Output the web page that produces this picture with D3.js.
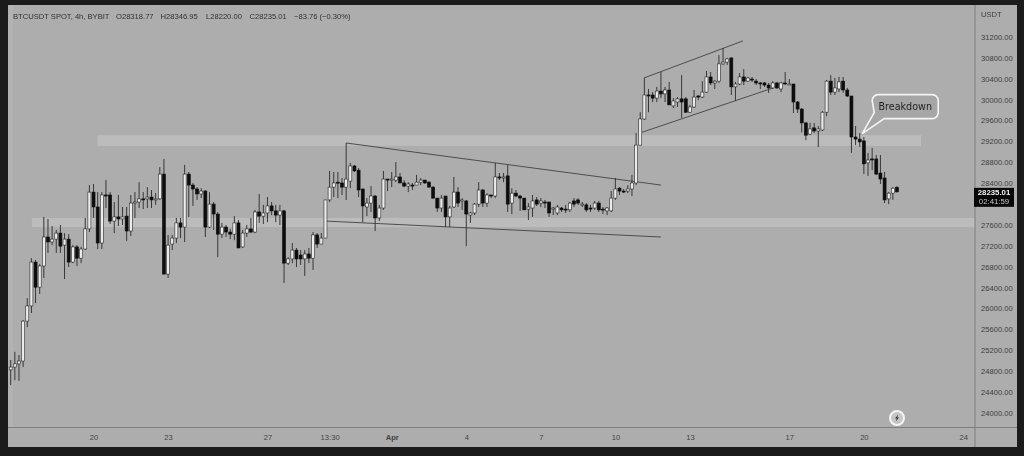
<!DOCTYPE html>
<html lang="en">
	<head>
		<meta charset="utf-8">
		<title>BTCUSDT 4h</title>
		<script src="https://cdn.jsdelivr.net/npm/d3@7"></script>
		<style>
			html, body { margin: 0; padding: 0; background: #1b1b1b; overflow: hidden; }
			svg { display: block; filter: blur(0.35px); }
			text { font-family: "Liberation Sans", Arial, sans-serif; }
		</style>
	</head>
	<body>
		<script>
//candle values, one entry per 4h bar
var opens = [
24825,24880,24940,24995,25760,26050,26890,26410,26815,27370,
27275,27330,27445,27215,27330,26890,27180,26965,27140,27525,
28230,27945,27255,28175,28175,27675,27755,27715,27770,27485,
28020,28040,28100,28100,28135,28080,28100,28575,26660,27235,
27350,27640,27560,28575,28365,28290,28195,28250,27560,28000,
27810,27425,27560,27465,27425,27640,27180,27445,27525,27465,
27850,27770,27830,27965,27870,27790,27870,26870,26950,27120,
27025,26950,27045,26965,27410,27235,27350,28080,28325,28420,
28405,28325,28440,28730,28650,28290,27945,28020,28155,27735,
27925,28480,28460,28460,28520,28405,28345,28365,28365,28420,
28460,28420,28325,28115,27925,28155,27755,27945,28230,28060,
28060,27790,27830,28000,28270,28020,28175,28155,28520,28500,
28540,28020,28210,28155,28115,27905,27925,28080,28020,28040,
28040,27905,27830,27925,27905,27890,28060,28080,27990,27985,
27925,27925,28020,27905,27870,27870,28115,28305,28250,28250,
28290,28405,29130,29630,30090,30090,30030,30165,30110,30185,
29880,29955,30015,30015,29760,29860,30070,30050,30145,30435,
30320,30355,30685,30720,30800,30245,30300,30435,30355,30395,
30355,30320,30320,30280,30225,30320,30205,30320,30290,30300,
29955,29820,29555,29340,29460,29400,29420,29760,30355,30145,
30205,30355,30185,30070,29285,29245,29210,28790,28865,28865,
28595,28500,28100,28210,28318.77];

var highs = [
25015,25170,25110,25780,26200,26965,26930,26850,27755,27715,
27580,27505,27600,27445,27425,27215,27215,27180,27735,28365,
28385,28230,28230,28460,28230,28040,28175,27945,27945,28175,
28230,28420,28230,28325,28270,28210,28710,28865,27410,27410,
27735,27735,28750,28615,28405,28325,28305,28270,28230,28040,
27850,27640,27600,27525,27770,27695,27505,27600,27735,27890,
28195,27985,28135,28040,27985,27985,27890,26985,27255,27160,
27120,27120,27160,27465,27445,27445,28080,28635,28615,28615,
28500,29170,28790,28750,28690,28290,28115,28345,28175,27985,
28635,28480,28615,28805,28595,28460,28420,28405,28560,28500,
28460,28440,28345,28115,28175,28155,27965,28520,28325,28115,
28080,27850,28020,28420,28290,28210,28175,28790,28595,28595,
28750,28305,28270,28175,28115,28020,28175,28135,28115,28080,
28040,27945,27985,27945,27985,28040,28115,28115,28040,28020,
27985,28060,28060,27945,27945,28250,28500,28325,28290,28365,
28560,29360,29760,30415,30205,30145,30245,30530,30245,30340,
30030,30050,30470,30050,29900,30185,30090,30355,30550,30530,
30375,30855,30990,30800,30800,30340,30510,30585,30435,30435,
30395,30340,30340,30320,30355,30340,30340,30530,30395,30300,
29975,29840,29570,29555,29555,29495,29780,30375,30470,30415,
30435,30435,30225,30070,29495,29360,29285,28980,29075,28940,
28940,28615,28230,28325,28346.95];

var lows = [
24535,24630,24615,24880,25645,25915,26105,26280,26585,27065,
27215,27065,27065,26565,26795,26870,26815,26870,27120,27465,
27735,27140,27140,27925,27620,27445,27580,27600,27295,27390,
27735,27925,27905,27925,27925,27985,28080,26660,26585,27120,
27255,27350,27275,27755,27965,28080,28115,27370,27540,27505,
26985,27350,27370,27330,27310,27160,27160,27370,27445,27445,
27640,27620,27655,27790,27655,27600,26490,26835,26870,26795,
26835,26625,26870,26740,27160,27235,27350,28040,28135,28115,
28175,28080,28305,28615,28135,27655,27770,27850,27485,27675,
27890,28250,28325,28420,28405,28325,28230,28270,28365,28365,
28385,28325,28100,27850,27850,27560,27560,27925,27945,27890,
27195,27640,27790,27945,27945,27945,28115,28115,28460,28420,
27850,27810,28135,27870,27890,27695,27755,27965,27945,27925,
27755,27790,27790,27850,27830,27850,27945,27985,27945,27850,
27850,27890,27850,27810,27790,27850,28080,28175,28210,28210,
28155,28365,29130,29610,29760,29955,29955,30030,29955,29900,
29840,29860,29650,29745,29745,29840,29990,30030,30130,30280,
30205,30320,30665,30665,30090,29975,30280,30280,30340,30340,
30280,30205,30245,30130,30205,30205,30145,30280,30280,29745,
29745,29375,29225,29320,29360,29095,29400,29685,30090,30090,
30145,30130,30050,28980,29130,29095,28575,28540,28650,28560,
28385,28020,28000,28080,28220];

var closes = [
24880,24940,24995,25760,26050,26890,26410,26815,27370,27275,
27330,27445,27195,27330,26890,27180,26965,27140,27525,28230,
27945,27255,28175,28155,27675,27755,27715,27755,27485,28020,
28040,28100,28080,28135,28080,28100,28575,26660,27215,27350,
27640,27560,28575,28365,28290,28195,28250,27560,28000,27810,
27425,27560,27465,27425,27640,27160,27445,27525,27465,27850,
27770,27830,27965,27870,27790,27870,26870,26950,27120,26950,
26950,27045,26965,27410,27235,27350,28080,28325,28405,28405,
28325,28480,28730,28635,28270,27965,28020,28155,27735,27925,
28480,28460,28480,28520,28405,28345,28385,28345,28420,28460,
28405,28325,28115,27925,28115,27755,27925,28230,28020,28080,
27810,27830,28000,28270,28020,28175,28155,28520,28500,28520,
28000,28210,28155,28115,27890,27945,28060,28000,28060,28020,
27830,27925,27945,27890,27890,28020,28000,28020,28000,27890,
27905,28020,27890,27890,27925,28115,28290,28250,28240,28290,
28405,29130,29630,30090,30070,30030,30165,30110,30185,29900,
29975,30015,29955,29760,29860,30050,30050,30145,30435,30320,
30355,30685,30720,30780,30245,30300,30435,30355,30415,30375,
30320,30310,30280,30225,30320,30225,30320,30300,30300,29955,
29820,29555,29320,29440,29400,29440,29760,30355,30145,30225,
30340,30185,30070,29285,29245,29190,28770,28845,28845,28575,
28480,28080,28210,28305,28235.01];

//axis ticks, x positions are bar numbers. 28000 sits behind the price tag in the picture
var priceTicks = [24000,24400,24800,25200,25600,26000,26400,26800,27200,27600,28400,28800,29200,29600,30000,30400,30800,31200];
var dayTicks = [21,39,63,78,93,111,129,147,165,189,207,231];
var dayLabels = ["20","23","27","13:30","Apr","4","7","10","13","17","20","24"];

//drawings on the chart as [bar, price] pairs
var wedgeTop = [[82,29170],[158,28365]];
var wedgeBottom = [[77.1,27675],[158,27370]];
var channelTop = [[153.9,30415],[177.8,31125]];
var channelBottom = [[153.4,29375],[185.1,30225]];
var zoneUpper = [22,220.8,29320,29115];
var zoneLower = [6.1,240,27735,27560];
var calloutBar = 206.6;
var calloutPrice = 29350;

var legendParts = ["BTCUSDT SPOT, 4h, BYBIT","O28318.77","H28346.95","L28220.00","C28235.01","\u221283.76 (\u22120.30%)"];
var legendX = [13,116,160.5,206,249.5,294];

var w = 1024;
var h = 456;
var panel = {left: 8, right: 1017, top: 5, bottom: 447};
var plotRight = 975;
var plotBottom = 427.5;

var xScale = d3.scaleLinear().domain([1,215]).range([10.7,897]);
var yScale = d3.scaleLinear().domain([24000,31200]).range([413,37]);

var svg = d3.select("body").append("svg").attr("width",w).attr("height",h);

svg.append("rect")
	.attr("x",panel.left).attr("y",panel.top)
	.attr("width",panel.right-panel.left).attr("height",panel.bottom-panel.top)
	.attr("fill","#adadad");

svg.append("rect")
	.attr("x",panel.left).attr("y",panel.top)
	.attr("width",5).attr("height",plotBottom-panel.top)
	.attr("fill","#b2b2b2");

svg.append("clipPath").attr("id","plot").append("rect")
	.attr("x",panel.left).attr("y",panel.top)
	.attr("width",plotRight-panel.left).attr("height",plotBottom-panel.top);

var plot = svg.append("g").attr("clip-path","url(#plot)");

//support and resistance zones
var zones = [zoneUpper,zoneLower];
plot.selectAll(".zone").data(zones).enter().append("rect")
	.attr("class","zone")
	.attr("x",function(d){ return xScale(d[0]); })
	.attr("y",function(d){ return yScale(d[2]); })
	.attr("width",function(d){ return xScale(d[1])-xScale(d[0]); })
	.attr("height",function(d){ return yScale(d[3])-yScale(d[2]); })
	.attr("fill","#bcbcbc");

//trend lines
var lineGen = d3.line().x(function(d){ return xScale(d[0]); }).y(function(d){ return yScale(d[1]); });
plot.selectAll(".trend").data([wedgeTop,wedgeBottom,channelTop,channelBottom]).enter().append("path")
	.attr("class","trend")
	.attr("d",lineGen)
	.attr("fill","none")
	.attr("stroke","#4d4d4d")
	.attr("stroke-width",1);

//candles
var candles = opens.map(function(o,i){
	return {bar:i+1, open:o, high:highs[i], low:lows[i], close:closes[i]};
});
var candleG = plot.append("g");
candleG.selectAll(".wick").data(candles).enter().append("line")
	.attr("class","wick")
	.attr("x1",function(d){ return xScale(d.bar); })
	.attr("x2",function(d){ return xScale(d.bar); })
	.attr("y1",function(d){ return yScale(d.high); })
	.attr("y2",function(d){ return yScale(d.low); })
	.attr("stroke","#383838")
	.attr("stroke-width",1);
candleG.selectAll(".body").data(candles).enter().append("rect")
	.attr("class","body")
	.attr("x",function(d){ return xScale(d.bar)-1.5; })
	.attr("width",3)
	.attr("y",function(d){ return yScale(Math.max(d.open,d.close)); })
	.attr("height",function(d){ return Math.max(1,Math.abs(yScale(d.open)-yScale(d.close))); })
	.attr("fill",function(d){ return d.close>=d.open ? "#ececec" : "#0d0d0d"; })
	.attr("stroke",function(d){ return d.close>=d.open ? "#2a2a2a" : "#0d0d0d"; })
	.attr("stroke-width",0.6);

//axes
var yAxis = d3.axisRight(yScale).tickValues(priceTicks).tickSize(0).tickPadding(6).tickFormat(d3.format(".2f"));
var xAxis = d3.axisBottom(xScale).tickValues(dayTicks).tickSize(0).tickPadding(7).tickFormat(function(d,i){ return dayLabels[i]; });

var yG = svg.append("g").attr("transform","translate("+plotRight+",0)").call(yAxis);
yG.select(".domain").remove();
yG.selectAll("text").attr("font-size",7.6).attr("fill","#3d3d3d").style("font-family","'Liberation Sans'");

var xG = svg.append("g").attr("transform","translate(0,"+plotBottom+")").call(xAxis);
xG.select(".domain").remove();
xG.selectAll("text").attr("font-size",7.6).attr("fill","#444")
	.style("font-family","'Liberation Sans'")
	.attr("font-weight",function(d,i){ return dayLabels[i]=="Apr" ? "bold" : "normal"; });

svg.append("line").attr("x1",plotRight).attr("x2",plotRight).attr("y1",panel.top).attr("y2",panel.bottom).attr("stroke","#7f7f7f");
svg.append("line").attr("x1",panel.left).attr("x2",panel.right).attr("y1",plotBottom).attr("y2",plotBottom).attr("stroke","#7f7f7f");

svg.append("text").text("USDT").attr("x",981).attr("y",17).attr("font-size",7.6).attr("fill","#3d3d3d");

//header line
svg.selectAll(".legend").data(legendParts).enter().append("text")
	.attr("class","legend")
	.attr("x",function(d,i){ return legendX[i]; })
	.attr("y",19)
	.attr("font-size",7.6)
	.attr("fill","#303030")
	.text(function(d){ return d; });

//last price tag
var lastClose = closes[closes.length-1];
var tagY = yScale(lastClose);
svg.append("rect").attr("x",plotRight-1).attr("y",tagY-4).attr("width",40).attr("height",19).attr("fill","#070707");
svg.append("text").text(d3.format(".2f")(lastClose)).attr("x",994).attr("y",tagY+3.5)
	.attr("text-anchor","middle").attr("font-size",7.8).attr("font-weight","bold").attr("fill","#f2f2f2");
svg.append("text").text("02:41:59").attr("x",994).attr("y",tagY+12.5)
	.attr("text-anchor","middle").attr("font-size",7.8).attr("fill","#c8c8c8");

//callout
var tipX = xScale(calloutBar);
var tipY = yScale(calloutPrice);
var bx = tipX+10, by = tipY-39, bw = 66, bh = 24, br = 6;
var callout = d3.path();
callout.moveTo(bx+br,by);
callout.lineTo(bx+bw-br,by);
callout.arcTo(bx+bw,by,bx+bw,by+br,br);
callout.lineTo(bx+bw,by+bh-br);
callout.arcTo(bx+bw,by+bh,bx+bw-br,by+bh,br);
callout.lineTo(bx+12,by+bh);
callout.lineTo(tipX,tipY);
callout.lineTo(bx+2,by+bh-6);
callout.lineTo(bx,by+br);
callout.arcTo(bx,by,bx+br,by,br);
callout.closePath();
svg.append("path").attr("d",callout.toString()).attr("fill","#a6a6a6").attr("stroke","#f4f4f4").attr("stroke-width",1.6);
svg.append("text").text("Breakdown").attr("x",bx+bw/2).attr("y",by+15)
	.attr("text-anchor","middle").attr("font-size",9.6).attr("fill","#222")
	.style("font-family","'DejaVu Sans'");

//lightning badge
var badge = svg.append("g").attr("transform","translate(897,418)");
badge.append("circle").attr("r",7).attr("fill","#c6c6c6").attr("stroke","#f5f5f5").attr("stroke-width",2);
badge.append("path").attr("d","M1.2,-3.6 L-2,0.5 L-0.2,0.5 L-1.2,3.6 L2,-0.6 L0.2,-0.6 Z").attr("fill","#333");
		</script>
	</body>
</html>
